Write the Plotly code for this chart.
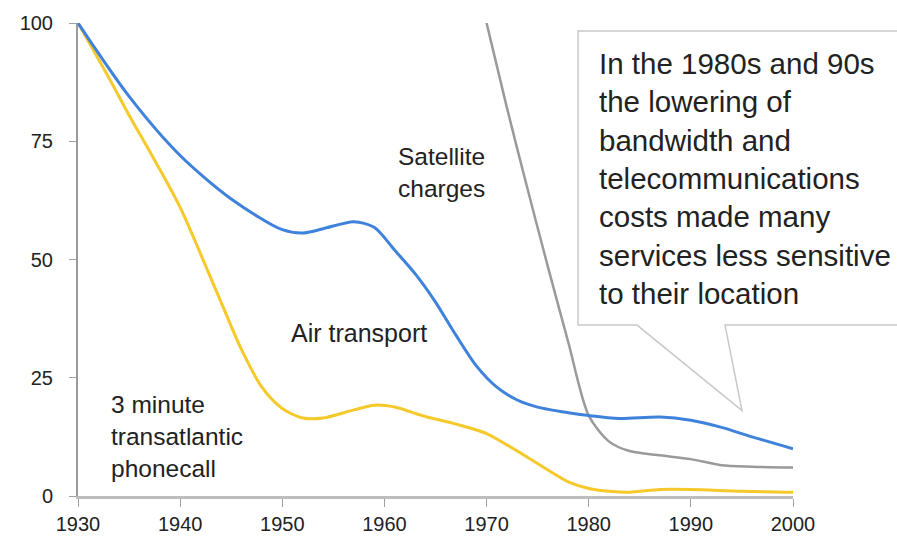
import plotly.graph_objects as go

# ---- data ----
air_years = [1930, 1935, 1940, 1945, 1950, 1952, 1954, 1957, 1959, 1961, 1963, 1965,
             1967, 1969, 1971, 1973, 1975, 1978, 1980, 1983, 1987, 1990, 1993, 1996, 2000]
air_values = [100, 84.5, 72, 62.8, 56.3, 55.6, 56.5, 58, 56.8, 52, 47, 41,
              34, 27.5, 23, 20.3, 18.8, 17.6, 17, 16.4, 16.7, 16, 14.5, 12.5, 10]

phone_years = [1930, 1933, 1935, 1937.5, 1940, 1944, 1946, 1948, 1950, 1952, 1954, 1957, 1959, 1961,
               1964, 1967, 1970, 1972, 1974, 1976, 1978, 1980, 1982, 1984, 1987, 1990, 1995, 2000]
phone_values = [100, 88.5, 80.5, 71, 61, 41, 31, 23, 18.5, 16.5, 16.5, 18.2, 19.2, 18.8,
                16.8, 15.2, 13.2, 10.8, 8.2, 5.5, 3, 1.6, 1.0, 0.8, 1.4, 1.4, 1.0, 0.8]

sat_years = [1970, 1972, 1974, 1976, 1978, 1980, 1982, 1984, 1987, 1990, 1993, 1996, 2000]
sat_values = [100, 82, 65, 48.5, 32.5, 17, 11.5, 9.5, 8.6, 7.8, 6.5, 6.2, 6.0]

x_ticks = [1930, 1940, 1950, 1960, 1970, 1980, 1990, 2000]
y_ticks = [0, 25, 50, 75, 100]

callout_text = ("In the 1980s and 90s<br>the lowering of<br>bandwidth and<br>telecommunications<br>"
                "costs made many<br>services less sensitive<br>to their location")

# ---- figure ----
W, H = 897, 548
ML, MR, MT, MB = 78, 104, 20, 52
PW, PH = W - ML - MR, H - MT - MB

FONT = "Liberation Sans, Arial, Helvetica, sans-serif"
TXT = "#222222"

fig = go.Figure()
fig.add_trace(go.Scatter(x=sat_years, y=sat_values, mode="lines",
                         line=dict(color="#9a9a9a", width=2.5, shape="spline", smoothing=0.8),
                         name="Satellite charges", hoverinfo="skip"))
fig.add_trace(go.Scatter(x=phone_years, y=phone_values, mode="lines",
                         line=dict(color="#f6c92b", width=3, shape="spline", smoothing=0.8),
                         name="3 minute transatlantic phonecall", hoverinfo="skip"))
fig.add_trace(go.Scatter(x=air_years, y=air_values, mode="lines",
                         line=dict(color="#3f82dc", width=3, shape="spline", smoothing=0.8),
                         name="Air transport", hoverinfo="skip"))


def px2paper(px, py):
    return (px - ML) / PW, (H - MB - py) / PH


# callout bubble
pts = [(578, 28), (910, 28), (910, 324), (725, 324), (742, 410), (637, 324), (578, 324)]
path = ""
for i, (a, b) in enumerate(pts):
    u, v = px2paper(a, b)
    path += ("M" if i == 0 else "L") + f"{u:.4f},{v:.4f} "
path += "Z"
fig.add_shape(type="path", path=path, xref="paper", yref="paper",
              line=dict(color="#c8c8c8", width=1.5), fillcolor="white", layer="below")

u, v = px2paper(597, 42)
fig.add_annotation(x=u, y=v, xref="paper", yref="paper", text=callout_text, showarrow=False,
                   xanchor="left", yanchor="top", align="left",
                   font=dict(family=FONT, size=29.5, color=TXT))

fig.add_annotation(x=1965.6, y=68.3, text="Satellite<br>charges", showarrow=False,
                   xanchor="center", yanchor="middle", align="center",
                   font=dict(family=FONT, size=24.5, color=TXT))
fig.add_annotation(x=1957.5, y=34.5, text="Air transport", showarrow=False,
                   xanchor="center", yanchor="middle",
                   font=dict(family=FONT, size=25, color=TXT))
fig.add_annotation(x=1933.0, y=12.6, text="3 minute<br>transatlantic<br>phonecall", showarrow=False,
                   xanchor="left", yanchor="middle", align="left",
                   font=dict(family=FONT, size=24.5, color=TXT))

fig.update_layout(
    width=W, height=H,
    margin=dict(l=ML, r=MR, t=MT, b=MB, pad=0),
    paper_bgcolor="white", plot_bgcolor="white",
    showlegend=False,
    font=dict(family=FONT, color=TXT, size=20),
    xaxis=dict(range=[1930, 2000], tickvals=x_ticks, ticktext=[str(t) for t in x_ticks],
               showgrid=False, zeroline=False, showline=True, linecolor="#bdbdbd", linewidth=3,
               ticks="outside", ticklen=8, tickcolor="#a0a0a0", tickwidth=1,
               tickfont=dict(size=20, color=TXT, family=FONT), fixedrange=True),
    yaxis=dict(range=[0, 100], tickvals=y_ticks, ticktext=[str(t) for t in y_ticks],
               showgrid=False, zeroline=False, showline=True, linecolor="#9a9a9a", linewidth=2,
               ticks="outside", ticklen=7, tickcolor="#a0a0a0", tickwidth=1,
               ticklabelstandoff=12,
               tickfont=dict(size=20, color=TXT, family=FONT), fixedrange=True),
)

fig.write_html("out.html", config={"displayModeBar": False})
